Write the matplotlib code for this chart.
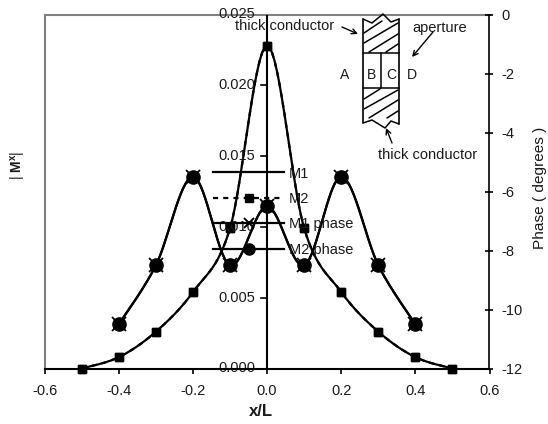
import numpy as np
import matplotlib
matplotlib.use("Agg")
import matplotlib.pyplot as plt
from matplotlib.lines import Line2D

plt.rcParams['font.family'] = ['Liberation Sans', 'DejaVu Sans']
plt.rcParams['mathtext.fontset'] = 'custom'
plt.rcParams['mathtext.rm'] = 'Liberation Sans'
plt.rcParams['mathtext.bf'] = 'Liberation Sans:bold'
FS = 10.5
INK = '#1a1a1a'

x_mag = [-0.5, -0.4, -0.3, -0.2, -0.1, 0.0, 0.1, 0.2, 0.3, 0.4, 0.5]
m1_mag = [0.0, 0.0008, 0.0026, 0.0054, 0.0099, 0.0228, 0.0099, 0.0054, 0.0026, 0.0008, 0.0]
m2_mag = [0.0, 0.0008, 0.0026, 0.0054, 0.0099, 0.0228, 0.0099, 0.0054, 0.0026, 0.0008, 0.0]
x_phase = [-0.4, -0.3, -0.2, -0.1, 0.0, 0.1, 0.2, 0.3, 0.4]
m1_phase = [-10.5, -8.5, -5.5, -8.5, -6.5, -8.5, -5.5, -8.5, -10.5]
m2_phase = [-10.5, -8.5, -5.5, -8.5, -6.5, -8.5, -5.5, -8.5, -10.5]
x_ticks = [-0.6, -0.4, -0.2, 0.0, 0.2, 0.4, 0.6]
mag_ticks = [0.0, 0.005, 0.010, 0.015, 0.020, 0.025]
phase_ticks = [0, -2, -4, -6, -8, -10, -12]
names = ['M1', 'M2', 'M1 phase', 'M2 phase']


def smooth(x, y, k=1 / 6, n=16):
    """Spreadsheet-style smoothed line through the given points."""
    x, y = np.asarray(x, float), np.asarray(y, float)
    X, Y = [], []
    for i in range(len(x) - 1):
        a = max(i - 1, 0)
        b = min(i + 2, len(x) - 1)
        c1 = (x[i] + (x[i + 1] - x[a]) * k, y[i] + (y[i + 1] - y[a]) * k)
        c2 = (x[i + 1] - (x[b] - x[i]) * k, y[i + 1] - (y[b] - y[i]) * k)
        t = np.linspace(0, 1, n)
        X.extend((1 - t) ** 3 * x[i] + 3 * (1 - t) ** 2 * t * c1[0] + 3 * (1 - t) * t ** 2 * c2[0] + t ** 3 * x[i + 1])
        Y.extend((1 - t) ** 3 * y[i] + 3 * (1 - t) ** 2 * t * c1[1] + 3 * (1 - t) * t ** 2 * c2[1] + t ** 3 * y[i + 1])
    return X, Y


W, H = 548, 424
fig = plt.figure(figsize=(W / 100, H / 100), dpi=100)
L, R, T, B = 44.7, 489.5, 14.5, 368.5
ax = fig.add_axes([L / W, 1 - B / H, (R - L) / W, (B - T) / H])
ax2 = ax.twinx()
ax.set_xlim(-0.6, 0.6)
ax.set_ylim(0, 0.025)
ax2.set_ylim(-12, 0)

lw = 1.6
dash = (0, (2.3, 2.3))
ax.plot(*smooth(x_mag, m1_mag), color='k', lw=lw, zorder=3)
ax.plot(x_mag, m1_mag, ls='none', marker='s', ms=6.4, color='k', zorder=4, clip_on=False)
ax.plot(*smooth(x_mag, m2_mag), color='k', lw=lw, ls=dash, zorder=3)
ax.plot(x_mag, m2_mag, ls='none', marker='s', ms=6.4, color='k', zorder=4, clip_on=False)
ax2.plot(*smooth(x_phase, m1_phase), color='k', lw=lw, zorder=3)
ax2.plot(x_phase, m1_phase, ls='none', marker='x', ms=10, mew=1.3, color='k', zorder=4)
ax2.plot(*smooth(x_phase, m2_phase), color='k', lw=lw, zorder=3)
ax2.plot(x_phase, m2_phase, ls='none', marker='o', ms=9.5, color='k', zorder=5)

for s in ('left', 'top'):
    ax.spines[s].set_color('#808080')
    ax.spines[s].set_linewidth(1.5)
ax2.spines['left'].set_visible(False)
ax2.spines['top'].set_visible(False)
ax.spines['right'].set_visible(False)
ax.spines['bottom'].set_visible(False)
ax2.spines['bottom'].set_linewidth(1.5)
ax2.spines['right'].set_linewidth(1.2)
ax2.axvline(0, color='k', lw=1.5, zorder=2)

ax.set_xticks(x_ticks)
ax.set_xticklabels([f'{v:.1f}' for v in x_ticks], fontsize=FS, color=INK)
ax.xaxis.set_ticks_position('bottom')
ax.tick_params(axis='x', length=3.6, width=1.2, pad=7.5, direction='out')
ax.set_yticks([])
ax2.set_yticks(phase_ticks)
ax2.set_yticklabels([f'{v:d}' for v in phase_ticks], fontsize=FS, color=INK)
ax2.tick_params(axis='y', direction='inout', length=5.8, width=1.2, pad=6)

fig.text(261 / W, 1 - 412 / H, 'x/L', fontsize=FS + 1.5, fontweight='bold', ha='center', va='center', color=INK)
fig.text(540 / W, 1 - 188 / H, 'Phase ( degrees )', rotation=90, fontsize=FS + 0.6,
         ha='center', va='center', color=INK)
fig.text(19 / W, 1 - 165.5 / H, r'| $\mathbf{M}^{\mathbf{x}}$|', rotation=90, fontsize=FS - 0.5,
         ha='center', va='center', color=INK)

trans = ax.get_yaxis_transform()
for v in mag_ticks:
    ax.plot([0.5 - 6 / (R - L), 0.5], [v, v], transform=trans, color='k', lw=1.2, zorder=2, clip_on=False)
    ax.text(0.5 - 12 / (R - L), v, f'{v:.3f}', transform=trans, ha='right', va='center',
            fontsize=FS, color=INK, zorder=6)

handles = [
    Line2D([], [], color='k', lw=lw),
    Line2D([], [], color='k', lw=lw, ls=dash, marker='s', ms=6.2),
    Line2D([], [], color='k', lw=lw, marker='x', ms=7.5, mew=1.4),
    Line2D([], [], color='k', lw=lw, marker='o', ms=8),
]
leg = fig.legend(handles, names, loc='upper left', bbox_to_anchor=(213 / W, 1 - 166.5 / H),
                 bbox_transform=fig.transFigure, frameon=False, fontsize=FS, handlelength=4.9,
                 handletextpad=0.28, labelspacing=0.78, borderpad=0, borderaxespad=0,
                 labelcolor=INK)
leg.set_zorder(10)

ov = fig.add_axes([0, 0, 1, 1], facecolor='none')
ov.set_xlim(0, W)
ov.set_ylim(H, 0)
ov.axis('off')


def seg(pts, lw_=1.1):
    ov.plot(*zip(*pts), color='k', lw=lw_, solid_capstyle='round')


top_edge = [(363, 19), (372, 23), (383, 14), (391, 22), (399, 19)]
bot_edge = [(363, 123), (372, 120), (385, 128), (391, 121), (399, 124)]
seg(top_edge)
seg(bot_edge)
seg([(363, 19), (363, 123)], 1.2)
seg([(399, 19), (399, 124)], 1.2)
seg([(363, 53), (399, 53)])
seg([(363, 88), (399, 88)])
seg([(381, 53), (381, 88)])
for pts in [[(364, 33), (382, 21)], [(364, 43), (398, 23)], [(369, 52), (398, 34)], [(386, 52), (398, 44)],
            [(364, 99), (380, 89)], [(364, 109), (398, 90)], [(369, 118), (398, 100)], [(387, 118), (398, 111)]]:
    seg(pts)
for s, px in zip('ABCD', [345, 372, 391, 412]):
    ov.text(px, 75, s, ha='center', va='center', fontsize=FS - 0.4, color=INK)
for s, px, py in [('thick conductor', 285, 26), ('aperture', 439.5, 28), ('thick conductor', 427.5, 155)]:
    ov.text(px, py, s, ha='center', va='center', fontsize=FS, color=INK)
arrow = dict(arrowstyle='->', color='k', lw=1.0, mutation_scale=9, shrinkA=0, shrinkB=0)
ov.annotate('', xy=(358, 34), xytext=(342, 27), arrowprops=arrow)
ov.annotate('', xy=(412, 57), xytext=(433, 32), arrowprops=arrow)
ov.annotate('', xy=(386, 128), xytext=(392, 143), arrowprops=arrow)

fig.savefig('out.png', dpi=100)
